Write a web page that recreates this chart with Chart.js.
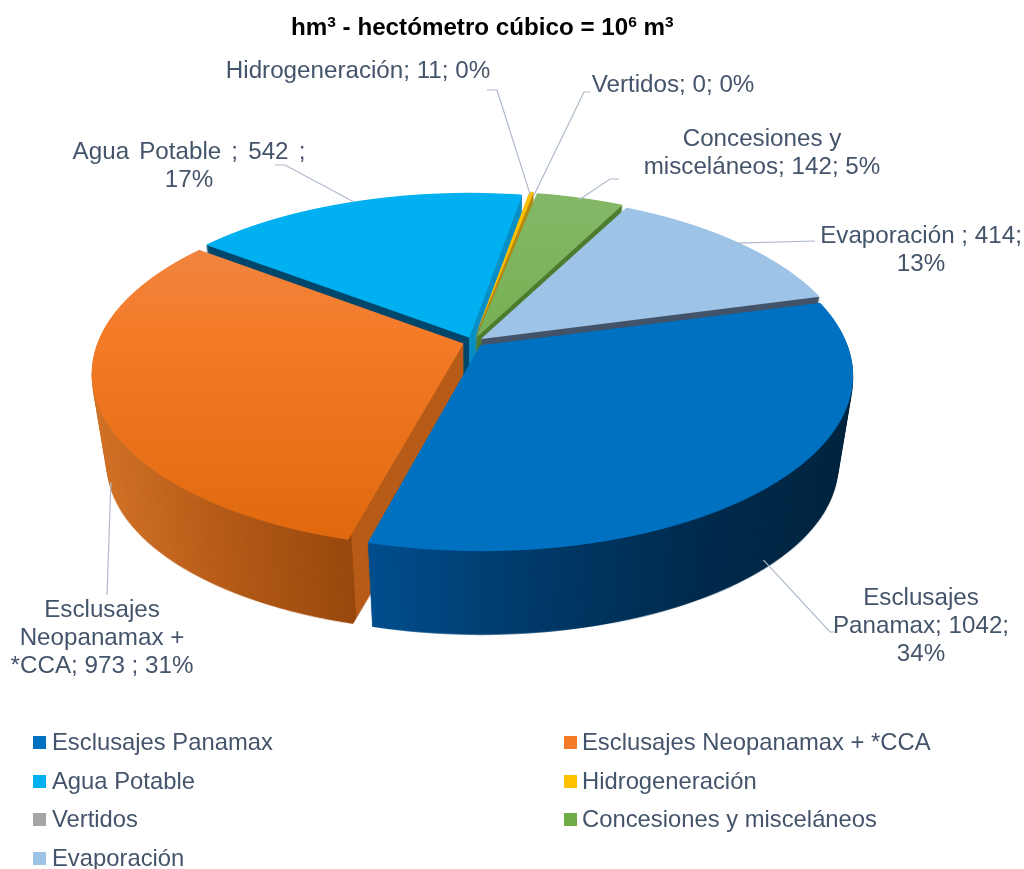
<!DOCTYPE html>
<html><head><meta charset="utf-8">
<style>html,body{margin:0;padding:0;background:#fff}canvas{display:block}</style>
<script src="https://cdn.jsdelivr.net/npm/chart.js@4"></script>
</head><body><canvas id="c" width="1024" height="869"></canvas>
<script>
const categories = ['Esclusajes Panamax','Esclusajes Neopanamax + *CCA','Agua Potable','Hidrogeneración','Vertidos','Concesiones y misceláneos','Evaporación'];
const values = [1042,973,542,11,0,142,414];
const colors = ['#0070c0','#f47b27','#00b0f0','#ffc000','#a5a5a5','#70ad47','#9dc3e6'];
const labelLines = [
  ['Esclusajes','Panamax; 1042;','34%'],
  ['Esclusajes','Neopanamax +','*CCA; 973 ; 31%'],
  ['Agua Potable ; 542 ;','17%'],
  ['Hidrogeneración; 11; 0%'],
  ['Vertidos; 0; 0%'],
  ['Concesiones y','misceláneos; 142; 5%'],
  ['Evaporación ; 414;','13%']
];
const titleParts = [['hm',0],['3',1],[' - hectómetro cúbico = 10',0],['6',1],[' m',0],['3',1]];
// layout
const labelPos = [[921,598],[102,610],[189,152],[358,71],[673,85],[762,139],[921,236]];
const labelWordGap = ['0px','0px','3.4px','0px','0px','0px','0px'];
const leaderPts = [[[830,632],[836,632]],[[107,595]],[[285,165],[275,165]],[[497,90],[487,90]],[[584,92],[590,92]],[[610,179],[619,179]],[[815,241]]];
const leaderOnWall = [true,true,false,false,false,false,false];
const legendPos = [[33,742],[564,742],[33,781],[564,781],[33,819],[564,819],[33,858]];
const drawOrder = [2,3,4,5,6,1,0];
const topStops = {1:[[0,'#ee8a50'],[.42,'#f47b27'],[1,'#e0690f']],5:[[0,'#84b868'],[1,'#64a437']]};
const wallStops = [
  [[.36,'#004f8e'],[.5,'#003d6e'],[.68,'#002c4f'],[.85,'#00263f']],
  [[.09,'#d2742a'],[.2,'#b95e1a'],[.343,'#98490e'],[.3431,'#b85d1a']],
  [[.458,'#00486c'],[.4581,'#0b90c6']],
  [[0,'#b58a10']],
  [[0,'#777777']],
  [[0,'#4f7d30']],
  [[0,'#44546a']]
];
const APEX = {x:473,y:342}, TILT = .465, PERSP = .166, DEPTH = 92, SHRINK = .04;
const FONT = '"Liberation Sans", Arial, sans-serif', INK = '#44546a', LEAD = '#adb9ca';

function project(x, y, R){ // plane offset -> screen
  const k = PERSP/R, w = 1/(1-k*y);
  return {x: APEX.x + x*w, y: APEX.y + TILT*y*w};
}
const pie3d = {
  id:'pie3d',
  beforeDatasetDraw(){ return false; },
  afterDatasetsDraw(chart){
    const ctx = chart.ctx, W = chart.width, H = chart.height;
    const arcs = chart.getDatasetMeta(0).data;
    const R = arcs[0].outerRadius, k = PERSP/R;
    const mk = () => { const c = document.createElement('canvas'); c.width=W; c.height=H; return c; };
    for (const i of drawOrder){
      const arc = arcs[i];
      if (!values[i]) continue;
      const top = mk(), o = top.getContext('2d');
      for (let Y=120; Y<640; Y++){
        const rel = Y+.5-APEX.y, v = rel/(TILT+k*rel), q = 1-k*v, w = 1/q, d = TILT/(q*q);
        o.save(); o.setTransform(1,0,0,1,0,0);
        o.beginPath(); o.rect(0,Y,W,1); o.clip();
        o.setTransform(w,0,0,d,APEX.x-w*arc.x,Y+.5-d*(arc.y+v));
        arc.draw(o);
        o.restore();
      }
      const wall = mk(), g = wall.getContext('2d');
      g.drawImage(top,0,0);
      g.globalCompositeOperation='source-in';
      const lg = g.createLinearGradient(0,0,W,0);
      wallStops[i].forEach(s=>lg.addColorStop(s[0],s[1]));
      g.fillStyle=lg; g.fillRect(0,0,W,H);
      for (let n=DEPTH; n>=1; n--){
        const t=n/DEPTH, s=1-SHRINK*t;
        ctx.drawImage(wall,APEX.x*(1-s),APEX.y*(1-s)+DEPTH*t,W*s,H*s);
      }
      if (topStops[i]){
        o.globalCompositeOperation='source-in';
        const tg=o.createLinearGradient(0,190,0,540);
        topStops[i].forEach(s=>tg.addColorStop(s[0],s[1]));
        o.fillStyle=tg; o.fillRect(0,0,W,H);
      }
      ctx.drawImage(top,0,0);
    }
    // leaders
    ctx.save();
    ctx.strokeStyle=LEAD; ctx.lineWidth=1.2;
    arcs.forEach((arc,i)=>{
      const mid=(arc.startAngle+arc.endAngle)/2, off=(arc.options.offset||0)/4;
      let p=project(Math.cos(mid)*(R+off),Math.sin(mid)*(R+off),R);
      if (leaderOnWall[i]){
        const s=1-SHRINK*.9;
        p={x:APEX.x+(p.x-APEX.x)*s,y:APEX.y+(p.y-APEX.y)*s+DEPTH*.9};
      }
      ctx.beginPath(); ctx.moveTo(p.x,p.y);
      leaderPts[i].forEach(q=>ctx.lineTo(q[0],q[1]));
      ctx.stroke();
    });
    // title
    ctx.fillStyle='#000'; ctx.textAlign='left'; ctx.textBaseline='alphabetic';
    let tx=291;
    titleParts.forEach(([t,sup])=>{
      ctx.font=(sup?'bold 15.5px ':'bold 24.2px ')+FONT;
      ctx.fillText(t,tx,sup?27:35);
      tx+=ctx.measureText(t).width;
    });
    // data labels
    ctx.fillStyle=INK; ctx.textAlign='center'; ctx.textBaseline='middle';
    ctx.font='24.2px '+FONT;
    labelLines.forEach((lines,i)=>{
      ctx.wordSpacing=labelWordGap[i];
      lines.forEach((l,j)=>ctx.fillText(l,labelPos[i][0],labelPos[i][1]+j*28.2));
    });
    ctx.wordSpacing='0px';
    // legend
    ctx.textAlign='left';
    ctx.font='23.8px '+FONT;
    categories.forEach((c,i)=>{
      const [x,y]=legendPos[i];
      ctx.fillStyle=colors[i]; ctx.fillRect(x,y-6,13,13);
      ctx.fillStyle=INK; ctx.fillText(c,x+(x>100?18:19),y+1);
    });
    ctx.restore();
  }
};
new Chart(document.getElementById('c'),{
  type:'pie',
  data:{labels:categories,datasets:[{data:values,backgroundColor:colors,borderWidth:0,offset:40,radius:365}]},
  options:{
    responsive:false,animation:false,devicePixelRatio:1,rotation:75,
    plugins:{legend:{display:false},tooltip:{enabled:false},title:{display:false}}
  },
  plugins:[pie3d]
});
</script></body></html>
